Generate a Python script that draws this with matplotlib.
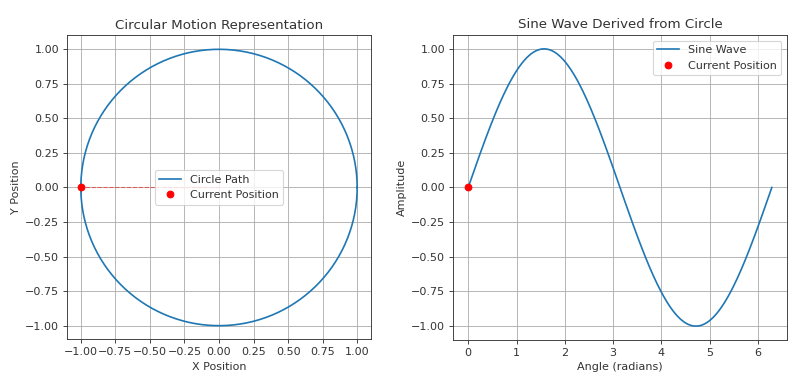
import matplotlib.pyplot as plt
import numpy as np

# data
theta = np.linspace(0, 2 * np.pi, 400)
circle_x = np.cos(theta)
circle_y = np.sin(theta)
sine_y = np.sin(theta)

# current position
point_angle = np.pi
point_x = np.cos(point_angle)
point_y = np.sin(point_angle)
sine_point_x = 0.0
sine_point_y = 0.0

# softer text like the reference
plt.rcParams['text.color'] = '#333333'
plt.rcParams['axes.labelcolor'] = '#333333'
plt.rcParams['xtick.color'] = '#333333'
plt.rcParams['ytick.color'] = '#333333'
plt.rcParams['axes.edgecolor'] = '#333333'

fig, (ax1, ax2) = plt.subplots(1, 2, figsize=(10, 4.7875), dpi=80)

# circle
ax1.plot(circle_x, circle_y, label='Circle Path')
ax1.plot(point_x, point_y, 'ro', label='Current Position')
ax1.plot([0, point_x], [0, point_y], 'r--', alpha=0.5, linewidth=1)
ax1.set_xlim(-1.1, 1.1)
ax1.set_ylim(-1.1, 1.1)
ax1.set_aspect('equal')
ax1.set_title('Circular Motion Representation')
ax1.set_xlabel('X Position')
ax1.set_ylabel('Y Position')
ax1.grid(True)
ax1.legend()

# sine wave
ax2.plot(theta, sine_y, label='Sine Wave')
ax2.plot(sine_point_x, sine_point_y, 'ro', label='Current Position')
ax2.set_ylim(-1.1, 1.1)
ax2.set_title('Sine Wave Derived from Circle')
ax2.set_xlabel('Angle (radians)')
ax2.set_ylabel('Amplitude')
ax2.grid(True)
ax2.legend()

ax1.set_position([0.08375, 0.1123, 0.38, 0.7963])
ax2.set_position([0.56625, 0.1123, 0.4175, 0.7963])

plt.savefig('out.png')
